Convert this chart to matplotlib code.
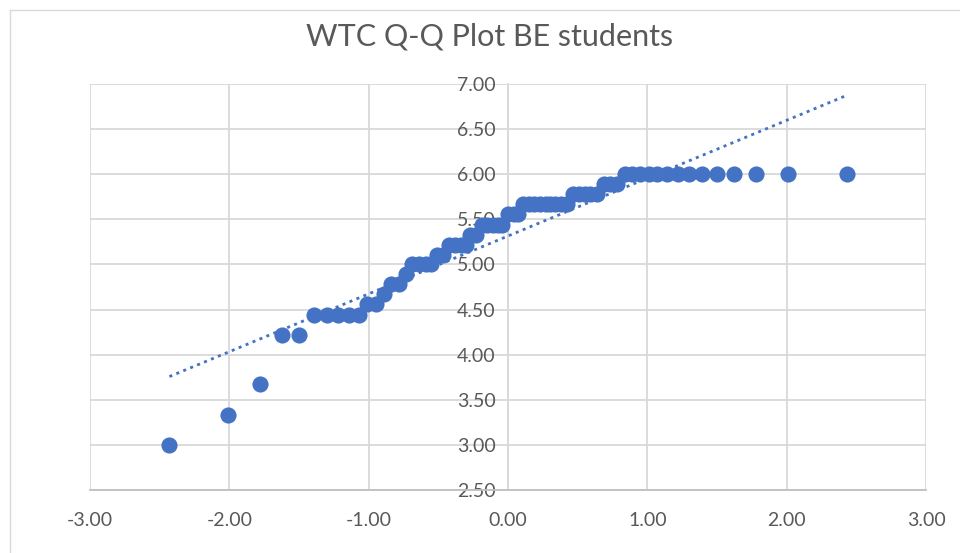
import matplotlib
matplotlib.use("Agg")
import matplotlib.pyplot as plt
import numpy as np
from matplotlib.lines import Line2D

# Theoretical normal quantiles (x)
x_quantiles = [-2.43, -2.01, -1.78, -1.62, -1.50, -1.39, -1.30, -1.22, -1.14, -1.07,
               -1.01, -0.95, -0.89, -0.84, -0.78, -0.73, -0.69, -0.64, -0.59, -0.55,
               -0.51, -0.47, -0.42, -0.38, -0.34, -0.30, -0.27, -0.23, -0.19, -0.15,
               -0.11, -0.07, -0.04, 0.00, 0.04, 0.07, 0.11, 0.15, 0.19, 0.23,
               0.27, 0.30, 0.34, 0.38, 0.42, 0.47, 0.51, 0.55, 0.59, 0.64,
               0.69, 0.73, 0.78, 0.84, 0.89, 0.95, 1.01, 1.07, 1.14, 1.22,
               1.30, 1.39, 1.50, 1.62, 1.78, 2.01, 2.43]

# Sorted WTC scores (y)
wtc_scores = ([3.00, 3.33, 3.67, 4.22, 4.22]
              + [4.44] * 5 + [4.56] * 2 + [4.67] + [4.78] * 2 + [4.89]
              + [5.00] * 4 + [5.11] * 2 + [5.22] * 4 + [5.33] * 2 + [5.44] * 5
              + [5.56] * 3 + [5.67] * 9 + [5.78] * 5 + [5.89] * 3 + [6.00] * 14)

x_ticks = [-3.0, -2.0, -1.0, 0.0, 1.0, 2.0, 3.0]
y_ticks = [2.5, 3.0, 3.5, 4.0, 4.5, 5.0, 5.5, 6.0, 6.5, 7.0]
title = "WTC Q-Q Plot BE students"

blue = "#4472C4"
grid_c = "#d9d9d9"
text_c = "#595959"

plt.rcParams['font.family'] = ['Lato', 'DejaVu Sans']

fig = plt.figure(figsize=(9.6, 5.53), dpi=100)
W, H = 960, 553
ax = fig.add_axes([90 / W, 1 - 490 / H, (926 - 90) / W, (490 - 84) / H])

ax.set_xlim(-3, 3)
ax.set_ylim(2.5, 7)
ax.set_xticks(x_ticks)
ax.set_yticks(y_ticks)
ax.set_xticklabels([f"{v:.2f}" for v in x_ticks])
ax.set_yticklabels([f"{v:.2f}" for v in y_ticks])
ax.set_axisbelow(True)
ax.grid(True, color=grid_c, linewidth=1.3)

for s in ['top', 'right']:
    ax.spines[s].set_visible(False)
ax.spines['left'].set_position(('data', 0))
ax.spines['left'].set_color(grid_c)
ax.spines['left'].set_linewidth(1.3)
ax.spines['bottom'].set_color("#bfbfbf")
ax.spines['bottom'].set_linewidth(1.3)

ax.tick_params(axis='both', length=0, labelsize=14, labelcolor=text_c)
ax.tick_params(axis='y', pad=9)
ax.tick_params(axis='x', pad=16)

xs = np.array(x_quantiles)
ys = np.array(wtc_scores)
ax.scatter(xs, ys, s=135, color=blue, zorder=3, linewidths=0)

# linear trendline
k, b = np.polyfit(xs, ys, 1)
tx = np.array([xs.min(), xs.max()])
ax.plot(tx, k * tx + b, color=blue, linewidth=2.0, linestyle=(0, (1.1, 1.6)),
        dash_capstyle='butt', zorder=4)

fig.text(490 / W, 1 - 37 / H, title, ha='center', va='center', fontsize=22,
         color=text_c)

# outer chart border
fig.add_artist(Line2D([10 / W, 10 / W], [0, 1 - 10 / H], transform=fig.transFigure,
                      color=grid_c, linewidth=1))
fig.add_artist(Line2D([10 / W, 1], [1 - 10 / H, 1 - 10 / H], transform=fig.transFigure,
                      color=grid_c, linewidth=1))

fig.savefig("out.png", dpi=100)
